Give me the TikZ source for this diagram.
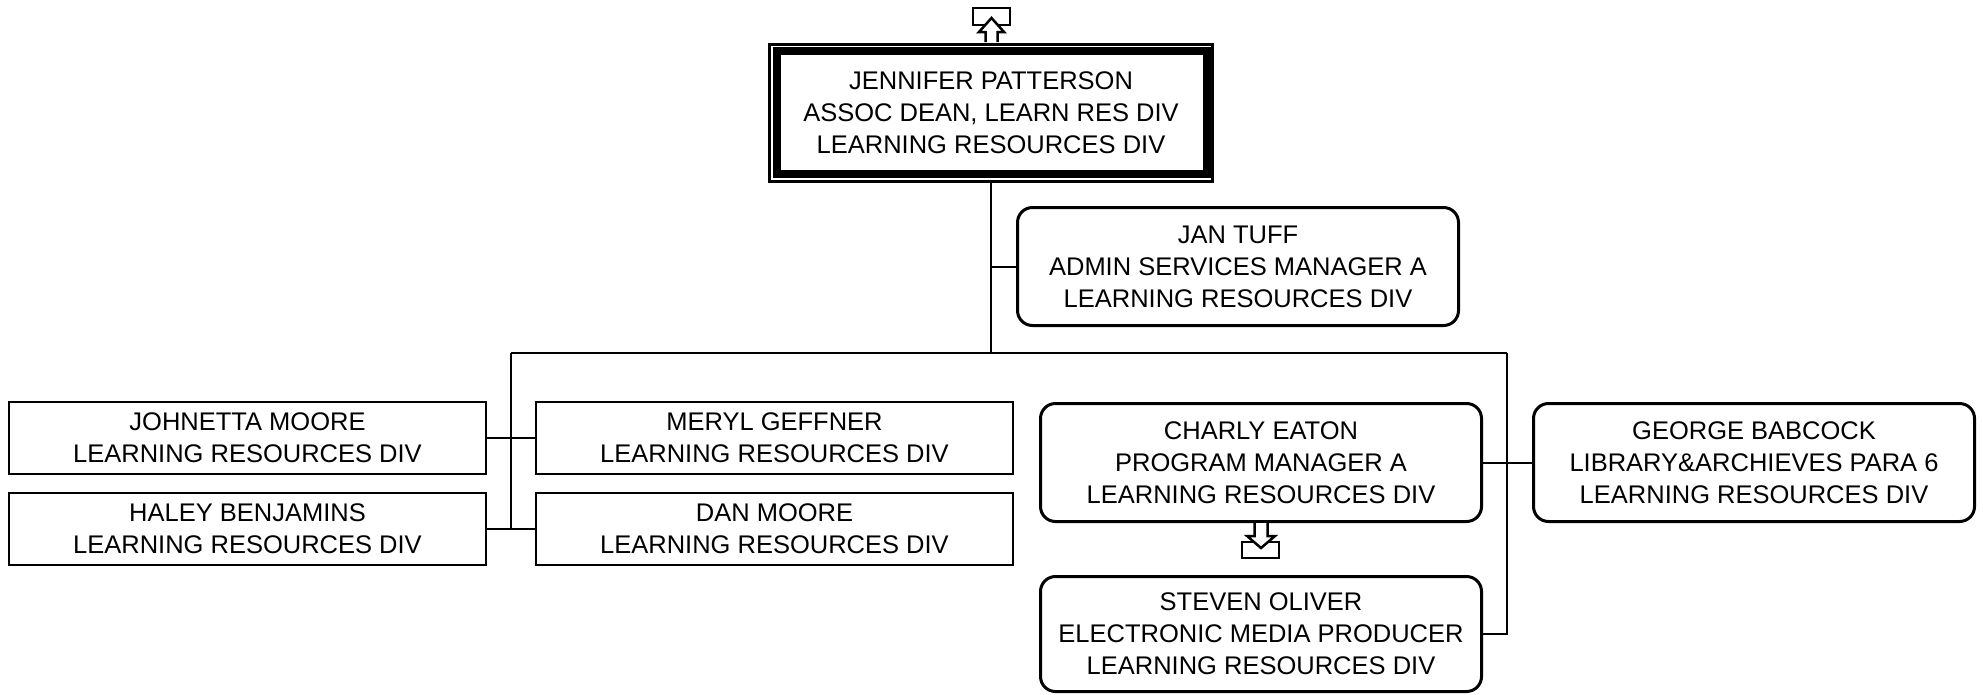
\documentclass[tikz,border=0pt]{standalone}
\usepackage{fontspec}
\setmainfont{Liberation Sans}
\begin{document}
\begin{tikzpicture}[x=1pt,y=-1pt,
  every node/.style={font=\fontsize{25.5}{32}\selectfont, align=center, inner sep=0pt},
  sqbox/.style={draw, line width=2.5pt, minimum width=477pt, minimum height=72pt},
  rbox/.style={draw, line width=3pt, rounded corners=15pt, minimum width=441pt, minimum height=118pt},
  conn/.style={line width=2pt},
  icon/.style={line width=2.5pt, fill=white, line join=miter}]
\useasboundingbox (0,0) rectangle (1983,694);

% top box
\node[draw, line width=3pt, minimum width=443pt, minimum height=137pt] (jp) at (991,112.5)
  {JENNIFER PATTERSON\\ASSOC DEAN, LEARN RES DIV\\LEARNING RESOURCES DIV};
\draw[line width=8pt] ([shift={(8.5,8.5)}]jp.north west) rectangle ([shift={(-7.5,-8.5)}]jp.south east);

% top icon
\draw[icon] (973,8) rectangle (1010,25);
\draw[icon] (985.5,42) -- (985.5,32) -- (979,32) -- (991.5,18) -- (1004,32) -- (997.5,32) -- (997.5,42);

\node[rbox] (jt) at (1238,266.5) {JAN TUFF\\ADMIN SERVICES MANAGER A\\LEARNING RESOURCES DIV};

\node[sqbox] (jm) at (247.5,438) {JOHNETTA MOORE\\LEARNING RESOURCES DIV};
\node[sqbox] (hb) at (247.5,529) {HALEY BENJAMINS\\LEARNING RESOURCES DIV};
\node[sqbox] (mg) at (774.5,438) {MERYL GEFFNER\\LEARNING RESOURCES DIV};
\node[sqbox] (dm) at (774.5,529) {DAN MOORE\\LEARNING RESOURCES DIV};

\node[rbox] (ce) at (1261,462.5) {CHARLY EATON\\PROGRAM MANAGER A\\LEARNING RESOURCES DIV};
\node[rbox] (gb) at (1754,462.5) {GEORGE BABCOCK\\LIBRARY\&ARCHIEVES PARA 6\\LEARNING RESOURCES DIV};
\node[rbox, minimum height=115pt] (so) at (1261,634) {STEVEN OLIVER\\ELECTRONIC MEDIA PRODUCER\\LEARNING RESOURCES DIV};

% connectors
\coordinate (busL) at (511,353);
\coordinate (busR) at (1507,353);
\draw[conn] (jp.south) -- (jp.south |- busL);
\draw[conn] (jp.south |- jt.west) -- (jt.west);
\draw[conn] (busL) -- (busR);
\draw[conn] (busL) -- (busL |- hb.east);
\draw[conn] (jm.east) -- (mg.west);
\draw[conn] (hb.east) -- (dm.west);
\draw[conn] (busR) |- (so.east);
\draw[conn] (ce.east) -- (gb.west);

% down icon
\draw[icon] (1242,542) rectangle (1279,558);
\draw[icon] (1254.5,523) -- (1254.5,536) -- (1247,536) -- (1261,548) -- (1275,536) -- (1267.5,536) -- (1267.5,523);
\end{tikzpicture}
\end{document}
